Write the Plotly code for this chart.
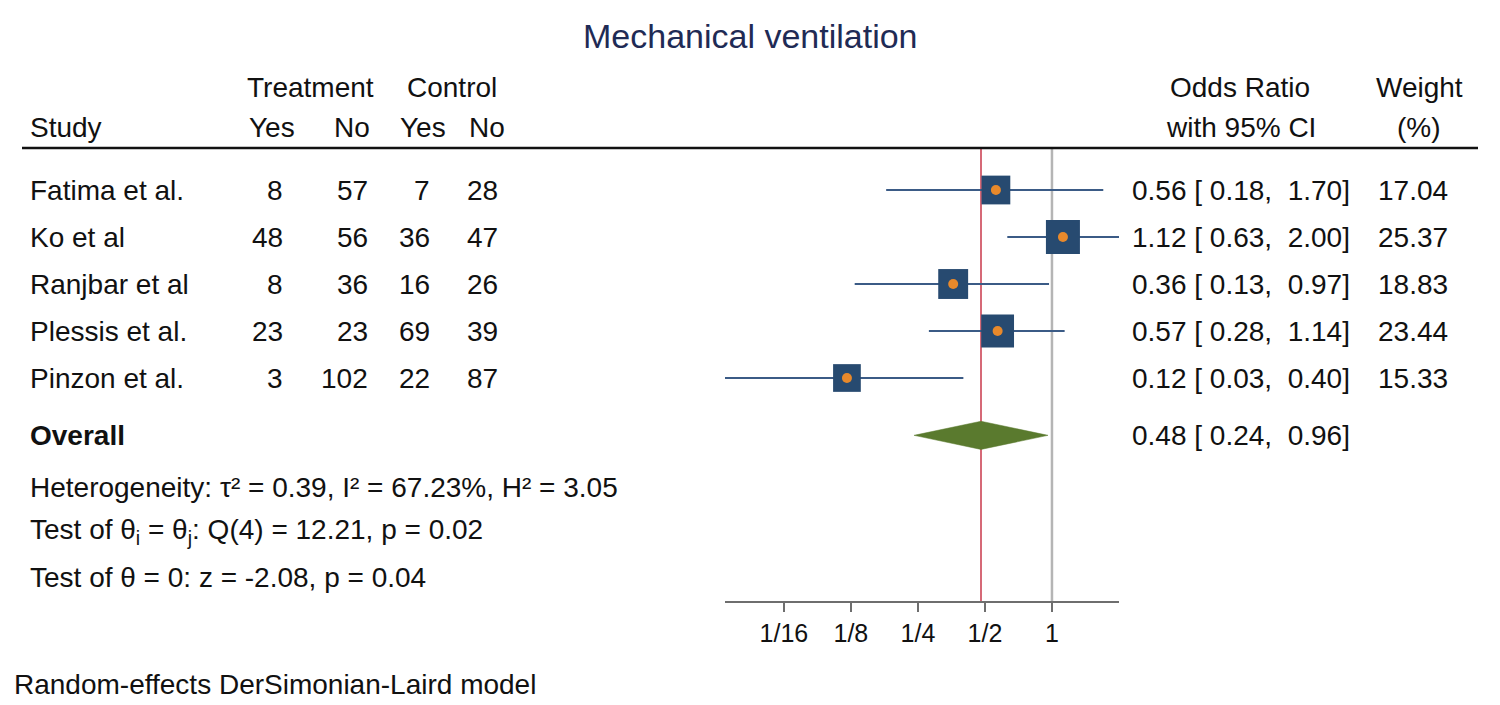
import math
import plotly.graph_objects as go

# ---------------- data ----------------
studies = ["Fatima et al.", "Ko et al", "Ranjbar et al", "Plessis et al.", "Pinzon et al."]
treat_yes = [8, 48, 8, 23, 3]
treat_no = [57, 56, 36, 23, 102]
ctrl_yes = [7, 36, 16, 69, 22]
ctrl_no = [28, 47, 26, 39, 87]
odds_ratio = [0.56, 1.12, 0.36, 0.57, 0.12]
ci_low = [0.18, 0.63, 0.13, 0.28, 0.03]
ci_high = [1.70, 2.00, 0.97, 1.14, 0.40]
weights = [17.04, 25.37, 18.83, 23.44, 15.33]

overall_or = 0.48
overall_low = 0.24
overall_high = 0.96

tau2 = 0.39
i2 = 67.23
h2 = 3.05
q_df = 4
q_stat = 12.21
q_p = 0.02
z_stat = -2.08
z_p = 0.04

tick_vals = [1/16, 1/8, 1/4, 1/2, 1]
tick_text = ["1/16", "1/8", "1/4", "1/2", "1"]

# ---------------- layout helpers ----------------
OFF = 8                      # page body margin
W, H = 1500 - OFF, 705 - OFF
FONT = "Liberation Sans, Arial, Helvetica, sans-serif"
FS = 28


def px(xp):
    return (xp - OFF) / W


def py(yp):
    return 1 - (yp - OFF) / H


rows = list(range(1, len(studies) + 1))
overall_row = len(studies) + 1.22
stat_rows = [len(studies) + 2.32, len(studies) + 3.27, len(studies) + 4.25]

fig = go.Figure()

# CI lines
cx, cy = [], []
for lo, hi, r in zip(ci_low, ci_high, rows):
    cx += [lo, hi, None]
    cy += [r, r, None]
fig.add_trace(go.Scatter(x=cx, y=cy, mode="lines",
                         line=dict(color="#3b5b86", width=2),
                         hoverinfo="skip", showlegend=False))

# weight squares
sizes = [18.1 + 0.627 * w for w in weights]
fig.add_trace(go.Scatter(x=odds_ratio, y=rows, mode="markers",
                         marker=dict(symbol="square", size=sizes, color="#274a70",
                                     opacity=1, line=dict(width=0)),
                         showlegend=False))
# point estimates
fig.add_trace(go.Scatter(x=odds_ratio, y=rows, mode="markers",
                         marker=dict(symbol="circle", size=10, color="#e8892b",
                                     opacity=1, line=dict(width=0)),
                         showlegend=False))

# overall diamond
dh = 0.3
fig.add_trace(go.Scatter(
    x=[overall_low, overall_or, overall_high, overall_or, overall_low],
    y=[overall_row, overall_row - dh, overall_row, overall_row + dh, overall_row],
    mode="lines", fill="toself", fillcolor="#5a7a2e",
    line=dict(color="#5a7a2e", width=0.5), showlegend=False, hoverinfo="skip"))

shapes = [
    dict(type="line", xref="x", yref="y domain", x0=1, x1=1, y0=0, y1=1,
         line=dict(color="#b5b5b5", width=2.5), layer="below"),
    dict(type="line", xref="x", yref="y domain", x0=overall_or, x1=overall_or, y0=0, y1=1,
         line=dict(color="#c8374a", width=1.5), layer="below"),
    dict(type="line", xref="paper", yref="paper", x0=px(22), x1=px(1478),
         y0=py(148), y1=py(148), line=dict(color="#111111", width=2.5)),
]

ann = []


def txt(x, y, s, anchor="left", yref="y", size=FS, color="#111111", bold=False):
    if bold:
        s = "<b>" + s + "</b>"
    ann.append(dict(x=x, y=y, xref="paper", yref=yref, text=s, showarrow=False,
                    xanchor=anchor, yanchor="middle",
                    font=dict(family=FONT, size=size, color=color)))


txt(px(750), py(36), "Mechanical ventilation", anchor="center", yref="paper", size=34, color="#1f2b55")

txt(px(310), py(88), "Treatment", anchor="center", yref="paper")
txt(px(452), py(88), "Control", anchor="center", yref="paper")
txt(px(28), py(128), "Study", yref="paper")
txt(px(272), py(128), "Yes", anchor="center", yref="paper")
txt(px(352), py(128), "No", anchor="center", yref="paper")
txt(px(423), py(128), "Yes", anchor="center", yref="paper")
txt(px(487), py(128), "No", anchor="center", yref="paper")
txt(px(1240), py(88), "Odds Ratio", anchor="center", yref="paper")
txt(px(1241), py(128), "with 95% CI", anchor="center", yref="paper")
txt(px(1419), py(88), "Weight", anchor="center", yref="paper")
txt(px(1419), py(128), "(%)", anchor="center", yref="paper")

nb = "\u00a0"


def fmt(v):
    return f"{v:5.2f}".replace(" ", nb)


for i, r in enumerate(rows):
    txt(px(28), r, studies[i])
    txt(px(285), r, str(treat_yes[i]), anchor="right")
    txt(px(370), r, str(treat_no[i]), anchor="right")
    txt(px(432), r, str(ctrl_yes[i]), anchor="right")
    txt(px(500), r, str(ctrl_no[i]), anchor="right")
    txt(px(1130), r, f"{odds_ratio[i]:.2f} [{fmt(ci_low[i])},{nb}{fmt(ci_high[i])}]")
    txt(px(1450), r, f"{weights[i]:.2f}", anchor="right")

txt(px(28), overall_row, "Overall", bold=True)
txt(px(1130), overall_row, f"{overall_or:.2f} [{fmt(overall_low)},{nb}{fmt(overall_high)}]")

txt(px(28), stat_rows[0],
    f"Heterogeneity: \u03c4\u00b2 = {tau2:.2f}, I\u00b2 = {i2:.2f}%, H\u00b2 = {h2:.2f}")
txt(px(28), stat_rows[1],
    f"Test of \u03b8<sub>i</sub> = \u03b8<sub>j</sub>: Q({q_df}) = {q_stat:.2f}, p = {q_p:.2f}")
txt(px(28), stat_rows[2], f"Test of \u03b8 = 0: z = {z_stat:.2f}, p = {z_p:.2f}")

txt(px(12), py(684), "Random-effects DerSimonian-Laird model", yref="paper")

fig.update_layout(
    width=W, height=H, margin=dict(l=0, r=0, t=0, b=0),
    paper_bgcolor="white", plot_bgcolor="white",
    font=dict(family=FONT, size=FS, color="#111111"),
    shapes=shapes, annotations=ann, showlegend=False,
    xaxis=dict(type="log", domain=[px(725), px(1119)],
               range=[math.log10(0.034), math.log10(2.0)],
               tickvals=tick_vals, ticktext=tick_text,
               showgrid=False, zeroline=False, showline=True,
               linecolor="#6e6e6e", linewidth=2,
               ticks="outside", ticklen=9, tickwidth=2, tickcolor="#6e6e6e",
               tickfont=dict(family=FONT, size=25, color="#111111")),
    yaxis=dict(domain=[py(601), py(148)], range=[9.745, 0.106],
               showgrid=False, zeroline=False, showline=False,
               showticklabels=False, ticks=""),
)

fig.write_html("out.html")
